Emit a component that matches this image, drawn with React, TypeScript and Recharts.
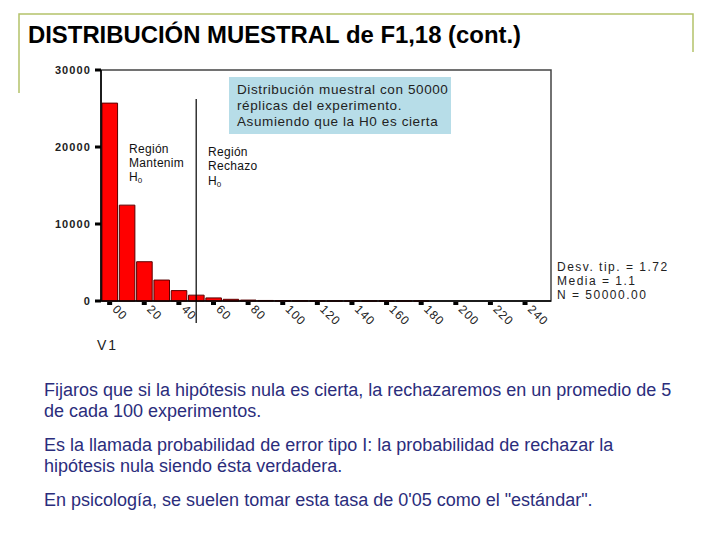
import React from "react";
import { ComposedChart, Bar, XAxis, YAxis, ReferenceLine, ReferenceArea } from "recharts";

const binCenters = [0, 10, 20, 30, 40, 50, 60, 70, 80, 90, 100, 110, 120, 130, 140, 150, 160, 170, 180, 190, 200, 210, 220, 230, 240, 250];
const counts = [25700, 12450, 5100, 2720, 1350, 760, 400, 220, 120, 70, 40, 25, 15, 10, 6, 4, 2, 1, 1, 0, 0, 0, 0, 0, 0, 0];
const xTicks = [0, 20, 40, 60, 80, 100, 120, 140, 160, 180, 200, 220, 240];
const xTickLabels = ["00", "20", "40", "60", "80", "100", "120", "140", "160", "180", "200", "220", "240"];
const yTicks = [0, 10000, 20000, 30000];
const criticalValue = 50;
const lineTop = 26230;
const lineBottom = -2860;
const statsLines = ["Desv. tip. = 1.72", "Media = 1.1", "N = 50000.00"];
const boxLines = ["Distribución muestral con 50000", "réplicas del experimento.", "Asumiendo que la H0 es cierta"];
const paragraphLines = [
  "Fijaros que si la hipótesis nula es cierta, la rechazaremos en un promedio de 5",
  "de cada 100 experimentos.",
  "Es la llamada probabilidad de error tipo I: la probabilidad de rechazar la",
  "hipótesis nula siendo ésta verdadera.",
  "En psicología, se suelen tomar esta tasa de 0'05 como el \"estándar\".",
];
const paragraphBaselines = [396, 417, 451, 472, 506];

const data = binCenters.map((x, i) => ({ x, count: counts[i] }));

const FONT = "'Liberation Sans', Arial, sans-serif";

const XTick = (props: any) => {
  const { x, y, payload } = props;
  const idx = xTicks.indexOf(payload.value);
  const label = idx >= 0 ? xTickLabels[idx] : String(payload.value);
  const tx = x + 2;
  const ty = y + 9;
  return (
    <g>
      <rect x={x - 2.5} y={y + 1} width={5} height={3} fill="#000" />
      <text x={tx} y={ty} transform={`rotate(45 ${tx} ${ty})`} fontSize={12} fontFamily={FONT} fill="#222" letterSpacing={1}>
        {label}
      </text>
    </g>
  );
};

const YTick = (props: any) => {
  const { x, y, payload } = props;
  return (
    <g>
      <rect x={x - 6} y={y - 1.5} width={6} height={3} fill="#000" />
      <text x={x - 10} y={y + 4} textAnchor="end" fontSize={11} fontFamily={FONT} fill="#222" letterSpacing={1.1} fontWeight="bold">
        {payload.value}
      </text>
    </g>
  );
};

const H0 = () => (
  <>
    <tspan>H</tspan>
    <tspan fontSize={8} dy={2}>0</tspan>
  </>
);

export default function App() {
  return (
    <div style={{ position: "absolute", left: 0, top: 0, width: 720, height: 540, background: "#fff", overflow: "hidden" }}>
      <div style={{ position: "absolute", left: 0, top: 0 }}>
        <ComposedChart width={720} height={540} data={data} margin={{ top: 70, right: 169, bottom: 209, left: 41 }}>
          <ReferenceArea x1={-5} x2={255} y1={0} y2={30000} fill="none" stroke="#444" strokeWidth={1.5} ifOverflow="visible" />
          <XAxis
            dataKey="x"
            type="number"
            domain={[-5, 255]}
            ticks={xTicks}
            allowDataOverflow
            height={30}
            tickSize={0}
            tickMargin={0}
            tickLine={false}
            axisLine={{ stroke: "#000", strokeWidth: 1.5 }}
            tick={<XTick />}
            interval={0}
          />
          <YAxis
            type="number"
            domain={[0, 30000]}
            ticks={yTicks}
            width={60}
            tickSize={0}
            tickMargin={0}
            tickLine={false}
            axisLine={{ stroke: "#000", strokeWidth: 1.5 }}
            tick={<YTick />}
            interval={0}
          />
          <Bar dataKey="count" fill="#ff0000" stroke="#5a0000" strokeWidth={1} barSize={450 / 26} isAnimationActive={false} />
          <ReferenceLine
            segment={[{ x: criticalValue, y: lineBottom }, { x: criticalValue, y: lineTop }]}
            stroke="#000"
            strokeWidth={1.2}
            ifOverflow="visible"
          />
        </ComposedChart>
      </div>
      <svg width={720} height={540} style={{ position: "absolute", left: 0, top: 0, pointerEvents: "none" }} fontFamily={FONT}>
        <polyline points="19,93 19,14 693,14 693,52" fill="none" stroke="#b4c26a" strokeWidth={1.5} />
        <text x={28} y={43} fontSize={24} fontWeight="bold" fill="#000" textLength={493} lengthAdjust="spacingAndGlyphs">
          DISTRIBUCIÓN MUESTRAL de F1,18 (cont.)
        </text>
        <rect x={229} y={77} width={222} height={57} fill="#b7dde8" />
        {boxLines.map((t, i) => (
          <text key={i} x={237} y={94 + i * 16} fontSize={13.5} fill="#222" letterSpacing={0.6}>
            {t}
          </text>
        ))}
        <text x={129} y={153} fontSize={12} fill="#111" letterSpacing={0.3}>Región</text>
        <text x={129} y={167} fontSize={12} fill="#111" letterSpacing={0.3}>Mantenim</text>
        <text x={129} y={181} fontSize={12} fill="#111"><H0 /></text>
        <text x={208} y={156} fontSize={12} fill="#111" letterSpacing={0.3}>Región</text>
        <text x={208} y={170} fontSize={12} fill="#111" letterSpacing={0.3}>Rechazo</text>
        <text x={208} y={185} fontSize={12} fill="#111"><H0 /></text>
        {statsLines.map((t, i) => (
          <text key={i} x={557} y={271 + i * 14} fontSize={12} fill="#222" letterSpacing={1.5}>
            {t}
          </text>
        ))}
        <text x={97} y={350} fontSize={14} fill="#222" letterSpacing={2}>V1</text>
        {paragraphLines.map((t, i) => (
          <text key={i} x={44} y={paragraphBaselines[i]} fontSize={18} fill="#2b2d7c">
            {t}
          </text>
        ))}
      </svg>
    </div>
  );
}
